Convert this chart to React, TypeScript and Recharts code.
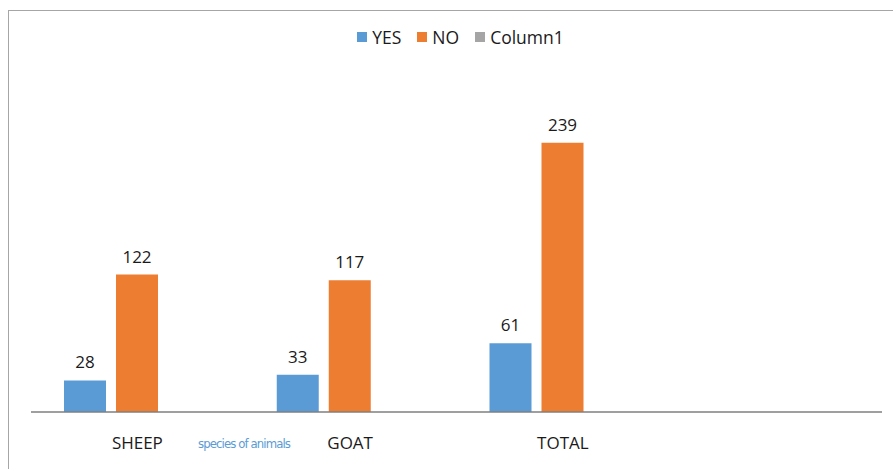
import { BarChart, Bar, XAxis, YAxis, LabelList } from "recharts";

const categories = ["SHEEP", "GOAT", "TOTAL", ""];
const yesValues = [28, 33, 61, null];
const noValues = [122, 117, 239, null];
const column1Values = [null, null, null, null];

const chartData = categories.map((name, i) => ({
  name,
  yes: yesValues[i],
  no: noValues[i],
  column1: column1Values[i],
}));

const legendItems = [
  { label: "YES", color: "#5B9BD5" },
  { label: "NO", color: "#ED7D31" },
  { label: "Column1", color: "#A5A5A5" },
];

const FONT = "'Open Sans', 'Noto Sans', sans-serif";

// category labels below the axis
const CategoryTick = (props: any) => {
  const { x, payload } = props;
  return (
    <text
      x={x}
      y={442}
      textAnchor="middle"
      dominantBaseline="central"
      fill="#1a1a1a"
      fontSize={17}
      fontFamily={FONT}
    >
      {payload.value}
    </text>
  );
};

export default function App() {
  return (
    <div
      style={{
        position: "absolute",
        left: 0,
        top: 0,
        width: 893,
        height: 469,
        background: "#fff",
        overflow: "hidden",
      }}
    >
      {/* chart frame, cut off at right and bottom */}
      <div
        style={{
          position: "absolute",
          left: 8,
          top: 10,
          width: 900,
          height: 480,
          borderLeft: "1px solid #a6a6a6",
          borderTop: "1px solid #a6a6a6",
        }}
      />
      {/* legend */}
      <div
        style={{
          position: "absolute",
          top: 25,
          left: 0,
          width: 893,
          display: "flex",
          justifyContent: "center",
          gap: 16,
          paddingLeft: 28,
          boxSizing: "border-box",
          fontFamily: FONT,
          fontSize: 17.5,
          color: "#1a1a1a",
        }}
      >
        {legendItems.map((item) => (
          <div key={item.label} style={{ display: "flex", alignItems: "center", gap: 5 }}>
            <div style={{ width: 10, height: 10, background: item.color }} />
            <span>{item.label}</span>
          </div>
        ))}
      </div>
      <BarChart
        width={893}
        height={469}
        data={chartData}
        margin={{ top: 74, right: 11, left: 31, bottom: 0 }}
        barCategoryGap={33}
        barGap={10}
        style={{ position: "absolute", left: 0, top: 0 }}
      >
        <XAxis
          dataKey="name"
          height={57}
          tickLine={false}
          axisLine={{ stroke: "#7f7f7f", strokeWidth: 1.5 }}
          tick={<CategoryTick />}
          interval={0}
        />
        <YAxis hide domain={[0, 300]} />
        <Bar dataKey="yes" fill="#5B9BD5" isAnimationActive={false}>
          <LabelList
            dataKey="yes"
            position="top"
            offset={12}
            fill="#1a1a1a"
            fontSize={17}
            fontFamily={FONT}
          />
        </Bar>
        <Bar dataKey="no" fill="#ED7D31" isAnimationActive={false}>
          <LabelList
            dataKey="no"
            position="top"
            offset={12}
            fill="#1a1a1a"
            fontSize={17}
            fontFamily={FONT}
          />
        </Bar>
        <Bar dataKey="column1" fill="#A5A5A5" isAnimationActive={false} />
        <text
          x={244}
          y={443}
          textAnchor="middle"
          dominantBaseline="central"
          fill="#5B9BD5"
          fontSize={13}
          fontFamily="'Liberation Sans Narrow', 'DejaVu Sans Condensed', sans-serif"
          style={{ letterSpacing: -0.9 }}
        >
          species of animals
        </text>
      </BarChart>
    </div>
  );
}
